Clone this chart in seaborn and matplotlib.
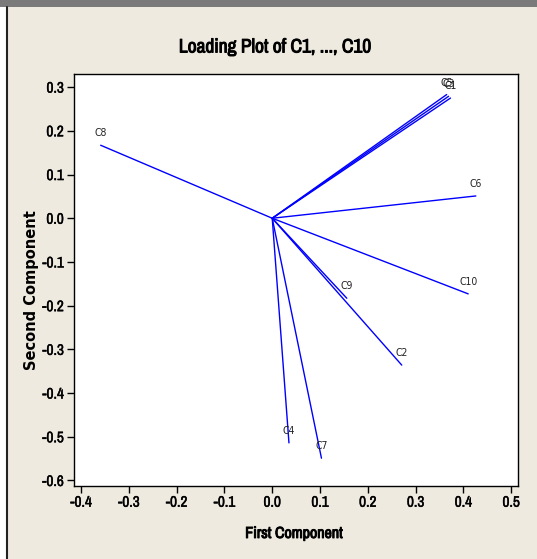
import numpy as np
import pandas as pd
import matplotlib
matplotlib.use('Agg')
import matplotlib.pyplot as plt
import matplotlib.patheffects as pe
import seaborn as sns

# loadings
names = ['C1', 'C2', 'C3', 'C4', 'C5', 'C6', 'C7', 'C8', 'C9', 'C10']
first_comp = [0.373, 0.271, 0.369, 0.035, 0.365, 0.426, 0.103, -0.359, 0.156, 0.410]
second_comp = [0.275, -0.336, 0.279, -0.514, 0.283, 0.051, -0.549, 0.167, -0.183, -0.173]
x_ticks = [-0.4, -0.3, -0.2, -0.1, 0.0, 0.1, 0.2, 0.3, 0.4, 0.5]
y_ticks = [0.3, 0.2, 0.1, 0.0, -0.1, -0.2, -0.3, -0.4, -0.5, -0.6]

# each loading is a segment from the origin
rows = []
for n, a, b in zip(names, first_comp, second_comp):
    rows.append({'var': n, 'x': 0.0, 'y': 0.0})
    rows.append({'var': n, 'x': a, 'y': b})
seg = pd.DataFrame(rows)

sns.set_style('white')
narrow = ['Archivo Narrow', 'DejaVu Sans']
plt.rcParams['font.family'] = narrow
plt.rcParams['text.color'] = 'black'

# the narrow face has no bold here, so thicken it with a stroke
fake_bold = [pe.withStroke(linewidth=0.7, foreground='black')]
semi_bold = [pe.withStroke(linewidth=0.3, foreground='black')]

fig = plt.figure(figsize=(5.37, 5.59), dpi=100)
fig.patch.set_facecolor('white')

# window-like background
bg = plt.Rectangle((7 / 537, 0), 1, 1 - 7 / 559, transform=fig.transFigure,
                   facecolor='#eeeae0', edgecolor='none', zorder=-10)
fig.patches.append(bg)
fig.add_artist(plt.Line2D([7 / 537, 7 / 537], [0, 1 - 7 / 559], transform=fig.transFigure,
                          color='#222222', lw=1.5))
band = plt.Rectangle((0, 1 - 7 / 559), 1, 7 / 559, transform=fig.transFigure,
                     facecolor='#7a7a7a', edgecolor='none')
fig.patches.append(band)

ax = fig.add_axes([0.137, 0.1306, 0.8274, 0.737])
ax.set_facecolor('white')

sns.lineplot(data=seg, x='x', y='y', units='var', estimator=None, sort=False,
             color='#0000ff', lw=1.0, ax=ax, legend=False)

for n, a, b in zip(names, first_comp, second_comp):
    ax.annotate(n, (a, b), xytext=(0, 5), textcoords='offset points',
                ha='center', va='bottom', fontsize=7.5, color='#222222',
                family='DejaVu Sans', fontstretch='condensed')

ax.set_xlim(-0.4157, 0.514)
ax.set_ylim(-0.6126, 0.330)
ax.set_xticks(x_ticks)
ax.set_yticks(y_ticks)
ax.set_xticklabels([f'{t:.1f}' for t in x_ticks])
ax.set_yticklabels([f'{t:.1f}' for t in y_ticks])
ax.tick_params(direction='out', length=5, width=1, color='black', labelcolor='black',
               labelsize=11, left=True, bottom=True, pad=2)
for lab in ax.get_xticklabels() + ax.get_yticklabels():
    lab.set_path_effects(semi_bold)
for s in ax.spines.values():
    s.set_color('black')
    s.set_linewidth(1)

ax.set_xlabel('First Component', fontsize=11.5, color='black', path_effects=fake_bold)
ax.xaxis.set_label_coords(0.496, -0.097)
ax.set_ylabel('Second Component', fontsize=10.5, fontweight='bold',
              family='DejaVu Sans', color='black')
ax.yaxis.set_label_coords(-0.078, 0.476)
fig.text(0.512, 0.916, 'Loading Plot of C1, ..., C10', ha='center', va='center',
         fontsize=14, color='black', path_effects=fake_bold)

fig.savefig('out.png', dpi=100)
